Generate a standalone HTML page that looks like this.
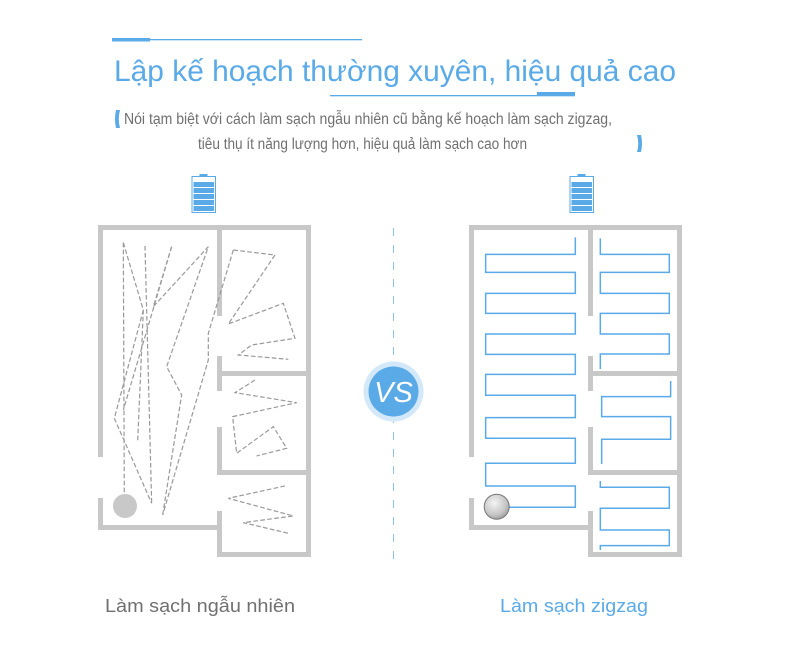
<!DOCTYPE html>
<html><head><meta charset="utf-8"><style>
body{margin:0;background:#fff;}
svg{display:block;font-family:"Liberation Sans",sans-serif;}
</style></head><body>
<svg width="790" height="647" viewBox="0 0 790 647" xmlns="http://www.w3.org/2000/svg">
<defs>
<radialGradient id="rb" cx="40%" cy="35%" r="70%"><stop offset="0" stop-color="#f4f4f4"/><stop offset="0.7" stop-color="#c4c4c4"/><stop offset="1" stop-color="#9a9a9a"/></radialGradient>
</defs>
<!-- header lines -->
<rect x="112" y="39" width="250" height="1.3" fill="#5aaae8"/>
<rect x="112" y="38" width="38" height="3.5" fill="#5aaae8"/>
<rect x="330" y="95" width="245" height="1.3" fill="#5aaae8"/>
<rect x="537" y="92" width="38" height="4" fill="#5aaae8"/>
<text x="114" y="81" font-size="29.5" fill="#5aaae8" textLength="562" lengthAdjust="spacingAndGlyphs">Lập kế hoạch thường xuyên, hiệu quả cao</text>
<path d="M120,110 L116,110 Q114,119 116,128 L120,128 Q117.5,119 120,110 Z" fill="#5aaae8"/>
<text x="124" y="124" font-size="15.5" fill="#707070" textLength="488" lengthAdjust="spacingAndGlyphs">Nói tạm biệt với cách làm sạch ngẫu nhiên cũ bằng kế hoạch làm sạch zigzag,</text>
<text x="198" y="149" font-size="15.5" fill="#707070" textLength="329" lengthAdjust="spacingAndGlyphs">tiêu thụ ít năng lượng hơn, hiệu quả làm sạch cao hơn</text>
<path d="M637,135 L641,135 Q643,143.5 641,152 L637,152 Q639.5,143.5 637,135 Z" fill="#5aaae8"/>

<!-- batteries -->
<g id="bat">
<rect x="199.5" y="174" width="8" height="2.5" fill="#5aaae8"/>
<rect x="192" y="176.5" width="23.5" height="36" fill="none" stroke="#5aaae8" stroke-width="1"/>
<rect x="193.5" y="182" width="20.5" height="5" fill="#5aaae8"/>
<rect x="193.5" y="188" width="20.5" height="5" fill="#5aaae8"/>
<rect x="193.5" y="194" width="20.5" height="5" fill="#5aaae8"/>
<rect x="193.5" y="200" width="20.5" height="5" fill="#5aaae8"/>
<rect x="193.5" y="206" width="20.5" height="5" fill="#5aaae8"/>
</g>
<use href="#bat" transform="translate(378,0)"/>

<!-- floor plan walls -->
<g id="walls" fill="#c8c8c8">
<rect x="98" y="225" width="213" height="5"/>
<rect x="98" y="225" width="5" height="232"/>
<rect x="98" y="498" width="5" height="32"/>
<rect x="98" y="525" width="124" height="5"/>
<rect x="217" y="225" width="5" height="91"/>
<rect x="217" y="356" width="5" height="35"/>
<rect x="217" y="427" width="5" height="48"/>
<rect x="217" y="511" width="5" height="46"/>
<rect x="217" y="371" width="94" height="5"/>
<rect x="217" y="470" width="94" height="5"/>
<rect x="217" y="552" width="94" height="5"/>
<rect x="306" y="225" width="5" height="332"/>
</g>
<use href="#walls" transform="translate(371,0)"/>

<!-- random dashed paths -->
<g transform="translate(90,170) scale(0.3333)" fill="none" stroke="#999" stroke-width="3.6" stroke-dasharray="14 7">
<polyline points="100,218 103,995"/>
<polyline points="100,218 160,420 143,815"/>
<polyline points="165,228 185,1000"/>
<polyline points="160,420 73,745 185,1000"/>
<polyline points="245,230 190,410 355,230 230,590 275,675 218,1035"/>
<polyline points="245,230 100,720"/>
<polyline points="430,240 355,490 355,570 218,1035"/>
<polyline points="430,240 555,255 415,462 580,400 615,505 485,525 445,555 595,568"/>
<polyline points="495,630 435,668 620,698 428,740 440,850 550,770 590,835 500,858"/>
<polyline points="585,948 415,985 610,1038 460,1058 595,1090"/>
</g>
<circle cx="125" cy="506" r="12" fill="#c8c8c8"/>

<!-- zigzag -->
<g transform="translate(460,170) scale(0.3333)" fill="none" stroke="#5aaae8" stroke-width="4.5">
<polyline points="346,202 346,253 77,253 77,307 346,307 346,370 77,370 77,430 346,430 346,492 77,492 77,553 346,553 346,613 77,613 77,676 346,676 346,743 77,743 77,805 346,805 346,880 77,880 77,948 346,948 346,1012 140,1012"/>
<polyline points="421,205 421,253 628,253 628,307 421,307 421,370 628,370 628,430 421,430 421,492 628,492 628,552 421,552 421,597"/>
<polyline points="632,633 632,680 425,680 425,740 632,740 632,808 425,808 425,882"/>
<polyline points="421,933 421,952 628,952 628,1015 421,1015 421,1080 628,1080 628,1127 421,1127 421,1140"/>
</g>
<circle cx="496.7" cy="506.7" r="12.5" fill="url(#rb)" stroke="#777" stroke-width="1"/>

<!-- VS -->
<line x1="393.5" y1="228" x2="393.5" y2="560" stroke="#8cc2ee" stroke-width="1" stroke-dasharray="8 9"/>
<circle cx="393.5" cy="391.5" r="30" fill="#d3e8f9"/>
<circle cx="393.5" cy="391.5" r="25" fill="#5aaae8"/>
<text x="393.5" y="402" font-size="29" fill="#fff" text-anchor="middle" font-style="italic">VS</text>

<text x="105" y="612" font-size="18" fill="#707070" textLength="190" lengthAdjust="spacingAndGlyphs">Làm sạch ngẫu nhiên</text>
<text x="500" y="612" font-size="18" fill="#5aaae8" textLength="148" lengthAdjust="spacingAndGlyphs">Làm sạch zigzag</text>
</svg>
</body></html>
